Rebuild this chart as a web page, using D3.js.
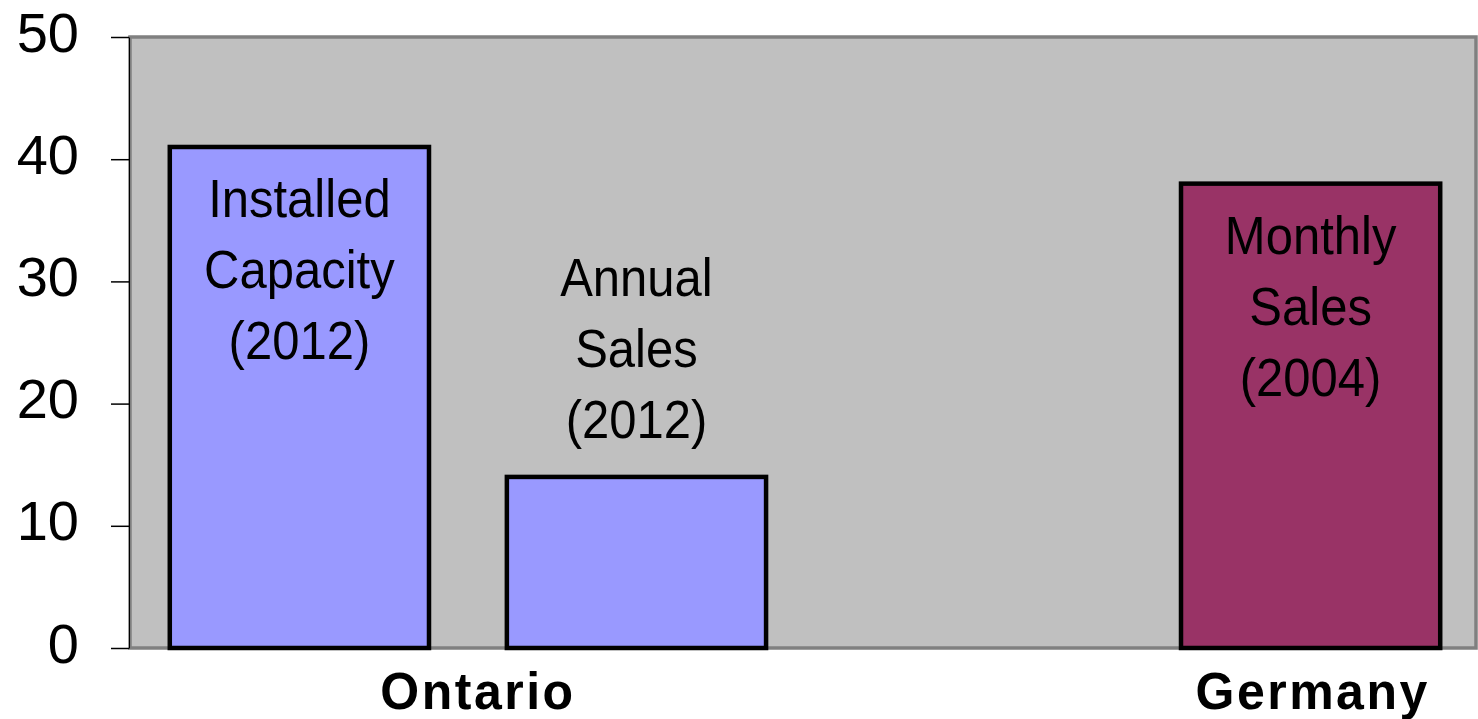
<!DOCTYPE html>
<html>
<head>
<meta charset="utf-8">
<script src="https://cdn.jsdelivr.net/npm/d3@7/dist/d3.min.js"></script>
<style>
  html, body { margin: 0; padding: 0; background: #fff; }
  svg { display: block; font-family: "Liberation Sans", Arial, sans-serif; }
</style>
</head>
<body>
<svg id="chart" width="1478" height="719"></svg>
<script>
// Bar slots (one empty spacer slot separates the two regions)
const slots = ["installed", "annual", "spacer", "monthly"];
const barKeys = ["installed", "annual", "monthly"];
const barValues = [41, 14, 38];
const barLabels = [
  ["Installed", "Capacity", "(2012)"],
  ["Annual", "Sales", "(2012)"],
  ["Monthly", "Sales", "(2004)"]
];
const barColors = ["#9999FF", "#9999FF", "#993366"];
const regions = ["Ontario", "Germany"];
const regionSlots = [["installed", "annual"], ["monthly"]];
const yTicks = [0, 10, 20, 30, 40, 50];

const svg = d3.select("#chart");
const plot = { left: 130, right: 1476, top: 37, bottom: 648 };

const x = d3.scaleBand().domain(slots).range([129, 1481])
  .paddingInner(0.231).paddingOuter(0.121);
const y = d3.scaleLinear().domain([0, 50]).range([plot.bottom, plot.top]);

// Plot background
svg.append("rect")
  .attr("x", plot.left).attr("y", plot.top)
  .attr("width", plot.right - plot.left).attr("height", plot.bottom - plot.top)
  .attr("fill", "#C0C0C0").attr("stroke", "#808080").attr("stroke-width", 3.5);

// Y axis
const yAxis = svg.append("g")
  .attr("transform", `translate(${plot.left - 1},0)`)
  .call(d3.axisLeft(y).tickValues(yTicks).tickSize(18).tickPadding(32).tickSizeOuter(0));
yAxis.select(".domain").attr("stroke", "#000").attr("stroke-width", 1);
yAxis.selectAll(".tick line").attr("stroke", "#000").attr("stroke-width", 1.5);
yAxis.selectAll(".tick text")
  .attr("fill", "#000")
  .style("font-family", "'Liberation Sans', Arial, sans-serif")
  .style("font-size", "56px")
  .attr("dy", "14px");

const bars = barKeys.map((k, i) => ({ key: k, value: barValues[i], lines: barLabels[i], color: barColors[i] }));

// Bars
svg.append("g").selectAll("rect").data(bars).join("rect")
  .attr("x", d => x(d.key))
  .attr("y", d => y(d.value))
  .attr("width", x.bandwidth())
  .attr("height", d => y(0) - y(d.value))
  .attr("fill", d => d.color)
  .attr("stroke", "#000")
  .attr("stroke-width", 4.5);

// Bar captions: inside tall bars, above short ones
const lineGap = 71;
const labelG = svg.append("g");
bars.forEach(d => {
  const cx = x(d.key) + x.bandwidth() / 2;
  const top = y(d.value);
  const n = d.lines.length;
  const inside = (y(0) - top) > (n * lineGap + 40);
  const first = inside ? top + 70 : top - 39 - (n - 1) * lineGap;
  d.lines.forEach((t, j) => {
    labelG.append("text")
      .attr("transform", `translate(${cx},${first + j * lineGap}) scale(1,1.1)`)
      .attr("text-anchor", "middle")
      .attr("fill", "#000")
      .style("font-size", "49px")
      .text(t);
  });
});

// Region labels under the axis
svg.append("g").selectAll("text").data(regions).join("text")
  .attr("transform", (d, i) => {
    const ks = regionSlots[i];
    const x0 = x(ks[0]);
    const x1 = x(ks[ks.length - 1]) + x.bandwidth();
    const nudge = ks.length > 1 ? 10 : 2;
    return `translate(${(x0 + x1) / 2 + nudge},709) scale(1,1.05)`;
  })
  .attr("text-anchor", "middle")
  .attr("fill", "#000")
  .style("font-size", "50px")
  .style("font-weight", "bold")
  .style("letter-spacing", "2.5px")
  .text(d => d);
</script>
</body>
</html>
